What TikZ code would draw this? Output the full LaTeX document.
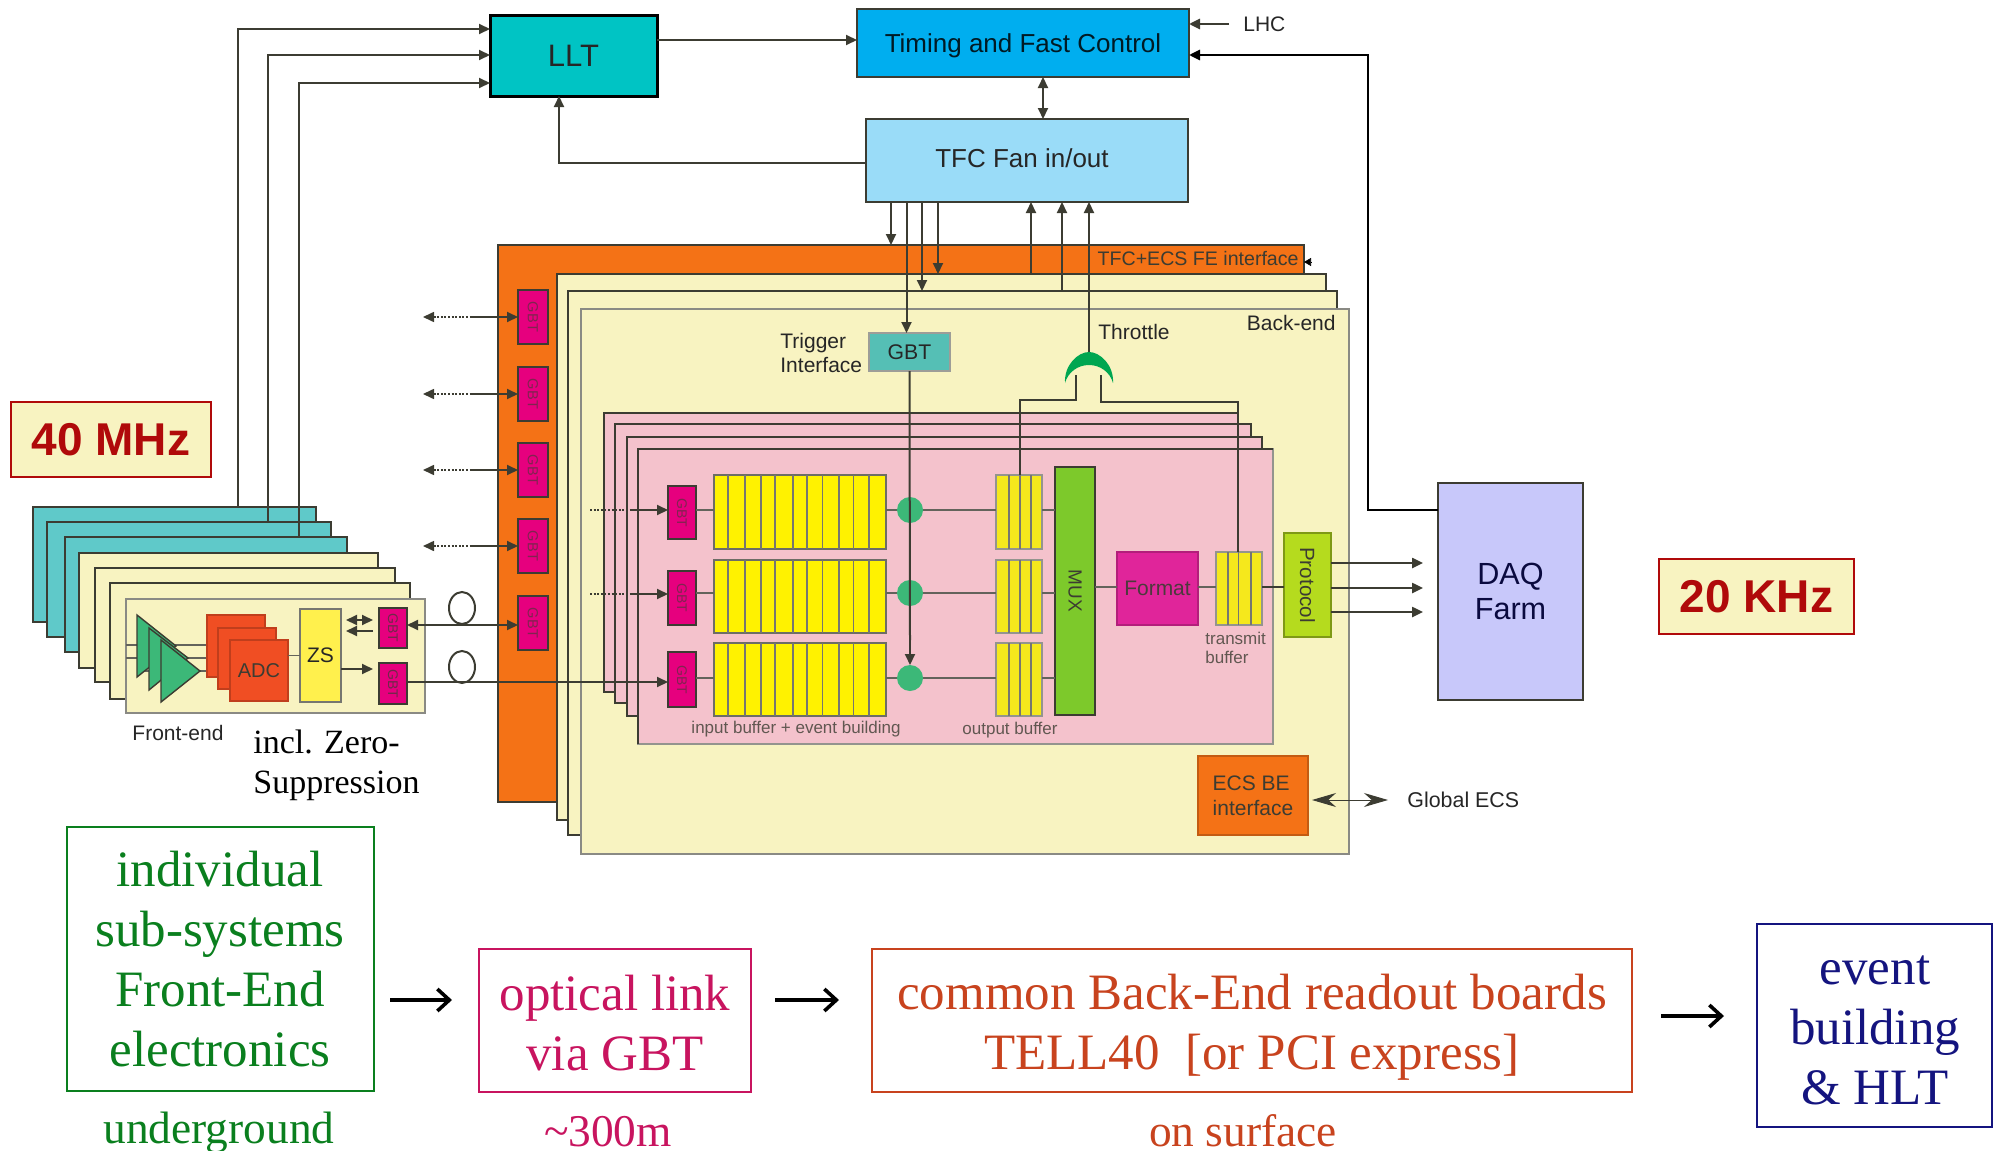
\documentclass[tikz,border=0pt]{standalone}
\usepackage{fontspec}
\setmainfont{Liberation Sans}
\newfontfamily\tms{Liberation Serif}
\usetikzlibrary{arrows.meta,shapes.geometric}
\definecolor{cTeal}{HTML}{5FC9C9}
\definecolor{cCream}{HTML}{F8F3C1}
\definecolor{cOrange}{HTML}{F47216}
\definecolor{cPink}{HTML}{F4C2CC}
\definecolor{cYel}{HTML}{FFF200}
\definecolor{cYel2}{HTML}{F5E81C}
\definecolor{cMag}{HTML}{E6007E}
\definecolor{cRound}{HTML}{3CB878}
\definecolor{cMux}{HTML}{7DC92B}
\definecolor{cFmt}{HTML}{E0259A}
\definecolor{cProt}{HTML}{B5DB1E}
\definecolor{cAdc}{HTML}{F04E23}
\definecolor{cZs}{HTML}{FFF04D}
\definecolor{cDaq}{HTML}{C8C8FA}
\definecolor{cLlt}{HTML}{00C4C4}
\definecolor{cTim}{HTML}{00AEEF}
\definecolor{cTfc}{HTML}{9ADCF8}
\definecolor{cGbtT}{HTML}{55BFB5}
\definecolor{cGate}{HTML}{00A651}
\definecolor{cEdge}{HTML}{3C3C32}
\definecolor{cTxt}{HTML}{262626}
\definecolor{cRed}{HTML}{B00A0A}
\definecolor{cGrn}{HTML}{0A7F1E}
\definecolor{cCrim}{HTML}{C8145F}
\definecolor{cBrick}{HTML}{C8431E}
\definecolor{cNavy}{HTML}{14147F}
\tikzset{
  box/.style={draw=cEdge,line width=0.8pt,inner sep=0pt,outer sep=0pt,align=center,text=cTxt},
  fs/.style={font=\fontsize{#1}{#1}\selectfont},
  wire/.style={draw=cEdge,line width=1pt},
  thin wire/.style={draw=cEdge!80,line width=0.6pt},
  tipa/.tip={Triangle[length=5.5pt,width=5pt]},
  ar/.style={wire,-tipa},
  ra/.style={wire,tipa-tipa},
  dots/.style={draw=cEdge,line width=0.8pt,dash pattern=on 1pt off 0.8pt},
  lab/.style={inner sep=0pt,text=cTxt,align=left},
  outbox/.style={draw=#1,line width=1pt,inner sep=0pt,outer sep=0pt,fill=white},
  outtext/.style={inner sep=0pt,align=center,text=#1,font=\tms\fontsize{25.5}{30}\selectfont},
  under/.style={inner sep=0pt,align=center,font=\tms\fontsize{22.7}{26}\selectfont},
  big/.style={draw=cRed,fill=cCream,line width=0.8pt,inner sep=0pt,outer sep=0pt,text=cRed,
    font=\bfseries\fontsize{23}{26}\selectfont},
  bigarrow/.style={draw=black,line width=1.8pt,-{Straight Barb[length=6pt,width=11pt]}},
  loop/.style={draw=cEdge,line width=1pt,ellipse,minimum width=13pt,minimum height=16pt,inner sep=0pt},
}
\newcommand\bx[7]{\node[box,#6,minimum width={(#4-#2)*0.5pt},minimum height={(#5-#3)*0.5pt}] (#1) at ({(#2+#4)/2},{(#3+#5)/2}) {#7};}
\begin{document}
\begin{tikzpicture}[x=0.5pt,y=-0.5pt]
\useasboundingbox (0,0) rectangle (1993,1151);
% top blocks
\bx{llt}{490}{15}{657}{96}{fill=cLlt,line width=1.5pt,draw=black,fs=15.5}{LLT}
\bx{tim}{857}{9}{1189}{77}{fill=cTim}{}
\node[lab,fs=13,text=black!85!cTim] (timt) at (1023,46) {Timing and Fast Control};
\bx{tfc}{866}{119}{1188}{202}{fill=cTfc}{}
\node[lab,fs=13] (tfct) at (1022,158) {TFC Fan in/out};
\node[lab,fs=10.5,anchor=west] (lhc) at (1243,24) {LHC};
% front-end cards
\bx{t1}{33}{507}{316}{622}{fill=cTeal}{}
\bx{t2}{47}{522}{331}{637}{fill=cTeal}{}
\bx{t3}{65}{537}{347}{652}{fill=cTeal}{}
\bx{c1}{79}{553}{378}{668}{fill=cCream}{}
\bx{c2}{95}{568}{395}{682}{fill=cCream}{}
\bx{c3}{110}{583}{410}{699}{fill=cCream}{}
\bx{c4}{126}{599}{425}{713}{fill=cCream,draw=cEdge!60}{}
\draw[thin wire] (126,645) -- (207,645) (126,658) -- (218,658) (140,671) -- (230,671);
\foreach \a/\b/\c in {137/615/646,149/628/658,161/640/671}{
  \pgfmathsetmacro\tipx{\a+39}
  \pgfmathsetmacro\bot{\b+62}
  \draw[draw=cEdge,fill=cRound,line width=0.7pt] (\a,\b) -- (\tipx,\c) -- (\a,\bot) -- cycle;
}
\bx{adc1}{207}{615}{265}{677}{fill=cAdc,draw=cAdc!80!black,text=cEdge,fs=10}{}
\bx{adc2}{218}{628}{276}{689}{fill=cAdc,draw=cAdc!80!black,text=cEdge,fs=10}{}
\bx{adc3}{230}{640}{288}{701}{fill=cAdc,draw=cAdc!80!black,text=cEdge,fs=10}{ADC}
\bx{zs}{300}{609}{341}{702}{fill=cZs,draw=cEdge!70,fs=10.5}{ZS}
\bx{gu}{379}{608}{407}{648}{fill=cMag,fs=7,text=cEdge!70!cMag}{\rotatebox{-90}{GBT}}
\bx{gl}{379}{663}{407}{704}{fill=cMag,fs=7,text=cEdge!70!cMag}{\rotatebox{-90}{GBT}}
\draw[thin wire] (adc3.east |- zs.west) -- (zs.west);
\coordinate (fe1) at (346,620); \coordinate (fe2) at (373,620);
\coordinate (fe3) at (373,631); \coordinate (fe4) at (346,631);
\draw[ra] (fe1) -- (fe2);
\draw[ar] (fe3) -- (fe4);
\draw[ar] (zs.east |- 0,669) -- (373,669);
\node[lab,fs=10.5,anchor=center] (fe) at (178,733) {Front-end};
\node[lab,text=black,anchor=north west,font=\tms\fontsize{17}{19.7}\selectfont] (zst) at (253,730) {incl. Zero-\\Suppression};
% back-end stack
\bx{or}{498}{245}{1304}{802}{fill=cOrange}{}
\bx{b1}{557}{274}{1326}{820}{fill=cCream}{}
\bx{b2}{568}{291}{1337}{835}{fill=cCream}{}
\bx{b3}{581}{309}{1349}{854}{fill=cCream,draw=cEdge!60}{}
\node[lab,fs=9.8,text=cEdge,anchor=east] (tei) at (1299,258) {TFC+ECS FE interface};
\foreach \n/\y in {1/317,2/394,3/470,4/546,5/623}{
  \pgfmathsetmacro\ya{\y-27}\pgfmathsetmacro\yb{\y+27}
  \bx{og\n}{518}{\ya}{548}{\yb}{fill=cMag,fs=7.3,text=cEdge!60!cMag}{\rotatebox{-90}{GBT}}
}
\foreach \n/\y in {1/317,2/394,3/470,4/546}{
  \coordinate (od\n) at (423,\y); \coordinate (os\n) at (470,\y);
  \draw[dots,tipa-] (od\n) -- (os\n);
  \draw[ar] (os\n) -- (og\n.west);
}
\draw[ra] (gu.east |- 0,625) -- (og5.west |- 0,625);
\node[loop] (lp1) at (462,608) {};
\node[loop] (lp2) at (462,667) {};
% pink cards
\bx{p1}{604}{413}{1238}{692}{fill=cPink}{}
\bx{p2}{615}{424}{1251}{703}{fill=cPink}{}
\bx{p3}{627}{437}{1262}{716}{fill=cPink}{}
\bx{p4}{638}{449}{1273}{744}{fill=cPink,draw=cEdge!55}{}
\draw[draw=cEdge,line width=0.8pt] (p4.south west) |- (p4.north east);
% input rows
\foreach \n/\ya/\yb/\ga/\gb/\ym in {1/475/549/486/539/510,2/560/633/571/625/593,3/643/716/652/707/678}{
  \bx{g\n}{668}{\ga}{696}{\gb}{fill=cMag,line width=1pt,fs=7,text=cEdge!60!cMag}{\rotatebox{-90}{GBT}}
  \bx{i\n}{714}{\ya}{886}{\yb}{fill=cYel,draw=cEdge!75}{}
  \foreach \xx in {728,745,761,775,793,807,822.5,839,853.5,869}{
    \draw[draw=cEdge!70,line width=0.6pt] (\xx,\ya) -- (\xx,\yb);
  }
  \bx{ob\n}{996}{\ya}{1042}{\yb}{fill=cYel2,draw=cEdge!55}{}
  \foreach \xx in {1009,1020,1031}{
    \draw[draw=cEdge!70,line width=0.6pt] (\xx,\ya) -- (\xx,\yb);
  }
  \node[circle,draw=none,fill=cRound,minimum width=13pt,inner sep=0pt,outer sep=0pt] (rd\n) at (910,\ym) {};
}
\bx{mux}{1055}{467}{1095}{715}{fill=cMux,fs=9.5,text=cEdge}{\rotatebox{-90}{MUX}}
\foreach \n/\ym in {1/510,2/593,3/678}{
  \draw[thin wire] (g\n.east |- 0,\ym) -- (i\n.west |- 0,\ym);
  \draw[thin wire] (i\n.east |- 0,\ym) -- (rd\n.west);
  \draw[thin wire] (rd\n.east) -- (ob\n.west |- 0,\ym);
  \draw[thin wire] (ob\n.east |- 0,\ym) -- (mux.west |- 0,\ym);
}
\foreach \n/\ym in {1/510,2/594}{
  \coordinate (pd\n) at (590,\ym); \coordinate (ps\n) at (632,\ym);
  \draw[dots] (pd\n) -- (ps\n);
  \draw[ar] (ps\n) -- (g\n.west |- 0,\ym);
}
\draw[ar] (gl.east |- 0,682) -- (g3.west |- 0,682);
\bx{fmt}{1117}{552}{1198}{625}{fill=cFmt,draw=cFmt!80!black,fs=10.5,text=cEdge!90!cFmt}{Format}
\bx{txb}{1216}{552}{1262}{625}{fill=cYel2,draw=cEdge!55}{}
\foreach \xx in {1228,1238.5,1251}{
  \draw[draw=cEdge!70,line width=0.6pt] (\xx,552) -- (\xx,625);
}
\bx{prot}{1284}{533}{1331}{637}{fill=cProt,draw=cProt!70!black,fs=10.3,text=cEdge}{\rotatebox{-90}{Protocol}}
\draw[thin wire] (mux.east |- 0,587) -- (fmt.west |- 0,587);
\draw[thin wire] (fmt.east |- 0,587) -- (txb.west |- 0,587);
\draw[wire] (txb.east |- 0,587) -- (prot.west |- 0,587);
\node[lab,fs=8.5,text=cEdge!80!cPink] (ibl) at (796,729) {input buffer + event building};
\node[lab,fs=8.5,text=cEdge!80!cPink] (obl) at (1010,730) {output buffer};
\node[lab,text=cEdge!80!cPink,anchor=north west,font=\fontsize{8.5}{9.5}\selectfont] (tbl) at (1205,632) {transmit\\buffer};
% trigger + gate
\bx{gbt}{869}{333}{950}{371}{fill=cGbtT,draw=cEdge!50,fs=10.6}{GBT}
\node[lab,fs=10.5,anchor=west,font=\fontsize{10.5}{11.7}\selectfont] (ti) at (780,353) {Trigger\\Interface};
\node[lab,fs=10.5,anchor=west] (thr) at (1098,332) {Throttle};
\node[lab,fs=10.5,anchor=east] (be) at (1336,323) {Back-end};
\coordinate (gt) at (1089,352);
\coordinate (gtl) at (1076,375); \coordinate (gtr) at (1101,375);
\draw[wire,fill=none] (gtl) |- (1020,400) coordinate (gtl2) -- (ob1.north -| 1020,0);
\draw[wire] (gtr) |- (1238,402) coordinate (gtr2) -- (txb.north -| 1238,0);
\fill[cGate] (1065,383) .. controls (1064,365) and (1078,352) .. (1089,352) .. controls (1100,352) and (1114,365) .. (1113,383) .. controls (1110,372) and (1100,365) .. (1089,365) .. controls (1078,365) and (1068,372) .. (1065,383) -- cycle;
\draw[wire] (gbt.south |- 0,371) -- (910,640);
\draw[ar] (910,640) -- (rd3.north);
\bx{ecs}{1198}{756}{1308}{835}{fill=cOrange,draw=cOrange!80!black,text=cEdge,align=left,font=\fontsize{10.5}{12.5}\selectfont}{ECS BE\\interface}
\node[lab,fs=10.7,anchor=west] (gecs) at (1407,800) {Global ECS};
\draw[wire,line width=0.5pt,{Stealth[length=12pt,width=7pt]}-{Stealth[length=12pt,width=7pt]}] (ecs.east |- 0,800) ++(4,0) -- (1388,800);
% DAQ
\bx{daq}{1438}{483}{1583}{700}{fill=cDaq,line width=1.4pt,draw=cEdge,text=cNavy!50!black,font=\fontsize{15.3}{17.5}\selectfont}{DAQ\\Farm}
\foreach \y in {563,588,612}{
  \draw[ar,line width=1.2pt] (prot.east |- 0,\y) -- (1423,\y);
}
% TFC connectors
\draw[ar] (llt.east |- 0,40) -- (tim.west |- 0,40);
\draw[ar] (tfc.west |- 0,163) -| (llt.south -| 559,0);
\draw[ra] (tim.south -| 1043,0) -- (tfc.north -| 1043,0);
\coordinate (lhcs) at (1229,24);
\draw[ar,line width=1.3pt] (lhcs) -- (tim.east |- 0,24);
\draw[ar,line width=1.3pt,draw=black] (daq.west |- 0,510) -| (1368,55) -- (tim.east |- 0,55);
\draw[ar] (891,0 |- tfc.south) -- (891,0 |- or.north);
\draw[ar] (906.5,0 |- tfc.south) -- (906.5,0 |- gbt.north);
\draw[ar] (922,0 |- tfc.south) -- (922,0 |- b2.north);
\draw[ar] (938,0 |- tfc.south) -- (938,0 |- b1.north);
\draw[ar] (1031,0 |- b1.north) -- (1031,0 |- tfc.south);
\draw[ar] (1062,0 |- b2.north) -- (1062,0 |- tfc.south);
\draw[ar] (gt) -- (1089,0 |- tfc.south);
\coordinate (tip) at (1311,262);
\draw[-{Triangle[length=3.5pt,width=4pt]},draw=black,line width=0.3pt] (tip) -- (or.east |- tip);
% FE to LLT
\draw[ar] (238,0 |- t1.north) |- (llt.west |- 0,29);
\draw[ar] (268,0 |- t2.north) |- (llt.west |- 0,55);
\draw[ar] (299,0 |- t3.north) |- (llt.west |- 0,83);
% rates
\node[big,minimum width=100pt,minimum height=37.5pt] (mhz) at (111,439.5) {40 MHz};
\node[big,minimum width=97.5pt,minimum height=37.5pt] (khz) at (1756.5,596.5) {20 KHz};
% bottom row
\bx{s1}{67}{827}{374}{1091}{outbox=cGrn}{}
\node[outtext=cGrn] (s1t) at (220,959) {individual\\sub-systems\\Front-End\\electronics};
\bx{s2}{479}{949}{751}{1092}{outbox=cCrim}{}
\node[outtext=cCrim] (s2t) at (615,1023) {optical link\\via GBT};
\bx{s3}{872}{949}{1632}{1092}{outbox=cBrick}{}
\node[outtext=cBrick] (s3t) at (1252,1027) {common Back-End readout boards\\TELL40~~[or PCI express]};
\bx{s4}{1757}{924}{1992}{1127}{outbox=cNavy}{}
\node[outtext=cNavy] (s4t) at (1875,1030) {event\\building\\\& HLT};
\draw[bigarrow] (s1.east |- 0,1000) ++(16,0) -- (452,1000);
\draw[bigarrow] (s2.east |- 0,1000) ++(24,0) -- (839,1000);
\draw[bigarrow] (s3.east |- 0,1016) ++(29,0) -- (1724,1016);
\node[under,text=cGrn] (u1) at (219,1133) {underground};
\node[under,text=cCrim] (u2) at (608,1132) {\textasciitilde 300m};
\node[under,text=cBrick] (u3) at (1243,1131) {on surface};
\end{tikzpicture}
\end{document}
